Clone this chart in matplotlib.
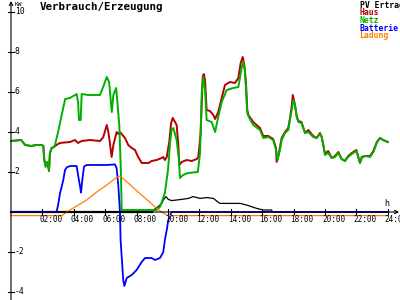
import matplotlib
matplotlib.use('Agg')
import matplotlib.pyplot as plt

# Verbrauch/Erzeugung - Tagesverlauf in kW

# Netz (gruen)
netz_h = [0.0, 0.65, 0.9, 1.3, 1.6, 1.95, 2.06, 2.12, 2.2, 2.32, 2.42, 2.48, 2.59, 2.74,
          2.8, 3.0, 3.2, 3.45, 3.75, 4.08, 4.18, 4.27, 4.33, 4.44, 4.5, 4.9, 5.3, 5.67,
          5.87, 6.1, 6.25, 6.35, 6.42, 6.52, 6.7, 6.78, 6.9, 7.0, 7.05, 9.28, 9.5, 9.8,
          10.0, 10.13, 10.23, 10.34, 10.55, 10.7, 10.76, 10.96, 11.27, 11.9, 12.04, 12.15,
          12.25, 12.36, 12.46, 12.78, 13.0, 13.2, 13.42, 13.74, 14.16, 14.48, 14.7, 14.8,
          14.9, 14.97, 15.05, 15.18, 15.43, 15.86, 16.07, 16.39, 16.7, 16.88, 16.98, 17.13,
          17.24, 17.45, 17.66, 17.77, 17.88, 17.98, 18.09, 18.2, 18.3, 18.5, 18.73, 18.94,
          19.25, 19.47, 19.68, 19.79, 19.89, 20.0, 20.2, 20.43, 20.64, 20.85, 21.06, 21.27,
          21.48, 21.7, 22.0, 22.12, 22.23, 22.34, 22.55, 22.87, 23.08, 23.3, 23.5, 23.7, 24.0]
netz_kw = [3.55, 3.6, 3.35, 3.3, 3.35, 3.35, 3.3, 2.6, 2.25, 2.5, 2.1, 2.95, 3.2, 3.25,
           3.35, 4.0, 4.75, 5.65, 5.7, 5.85, 5.9, 5.5, 4.6, 4.6, 5.9, 5.85, 5.85, 5.85,
           6.25, 6.75, 6.5, 5.6, 5.0, 5.85, 6.2, 5.45, 4.3, 2.0, 0.1, 0.1, 0.27, 0.95,
           2.1, 3.45, 4.1, 4.2, 3.6, 2.6, 1.7, 1.85, 1.95, 2.0, 2.95, 5.95,
           6.75, 6.1, 4.6, 4.5, 4.0, 4.75, 5.5, 6.1, 6.2, 6.25, 7.25, 7.5,
           7.1, 6.1, 4.95, 4.7, 4.35, 4.1, 3.7, 3.75, 3.6, 3.1, 2.6, 3.1,
           3.6, 3.95, 4.1, 4.6, 5.1, 5.6, 5.35, 4.75, 4.5, 4.45, 3.95, 4.0,
           3.75, 3.7, 3.9, 3.75, 3.35, 2.85, 2.95, 2.7, 2.75, 2.95, 2.65, 2.55,
           2.75, 2.9, 3.05, 2.75, 2.45, 2.7, 2.8, 2.75, 3.0, 3.45, 3.7, 3.6, 3.5]

# Haus (rot)
haus_h = [0.0, 0.65, 0.9, 1.3, 1.6, 1.95, 2.06, 2.12, 2.2, 2.32, 2.42, 2.48, 2.59, 2.74,
          2.8, 3.1, 3.75, 4.08, 4.27, 4.5, 5.03, 5.67, 5.88, 6.1, 6.2, 6.3, 6.41, 6.52,
          6.73, 6.84, 6.94, 7.26, 7.47, 7.69, 7.9, 8.1, 8.33, 8.75, 8.96, 9.28, 9.6, 9.7,
          9.8, 9.92, 10.08, 10.2, 10.3, 10.45, 10.55, 10.66, 10.72, 10.87, 11.19, 11.51,
          11.83, 11.93, 12.08, 12.21, 12.28, 12.36, 12.46, 12.67, 12.89, 13.0, 13.2, 13.42,
          13.63, 13.95, 14.27, 14.48, 14.63, 14.76, 14.86, 14.97, 15.05, 15.12, 15.43, 15.86,
          16.07, 16.39, 16.7, 16.88, 16.92, 17.05, 17.24, 17.45, 17.66, 17.77, 17.88, 17.95,
          18.05, 18.2, 18.3, 18.5, 18.73, 18.94, 19.25, 19.47, 19.68, 19.79, 19.89, 20.0,
          20.2, 20.43, 20.64, 20.85, 21.06, 21.27, 21.48, 21.7, 22.0, 22.12, 22.23, 22.34,
          22.55, 22.87, 23.08, 23.3, 23.5, 23.7, 24.0]
haus_kw = [3.55, 3.6, 3.35, 3.3, 3.35, 3.35, 3.3, 2.6, 2.35, 2.5, 2.05, 2.95, 3.2, 3.25,
           3.3, 3.45, 3.5, 3.6, 3.45, 3.55, 3.6, 3.55, 3.75, 4.35, 4.0, 3.45, 2.75, 3.35,
           4.0, 3.9, 4.0, 3.7, 3.35, 3.2, 3.1, 2.75, 2.45, 2.45, 2.55, 2.6, 2.7, 2.75,
           2.6, 2.75, 3.5, 4.45, 4.7, 4.5, 4.35, 3.35, 2.35, 2.5, 2.6, 2.55,
           2.65, 2.75, 3.95, 6.75, 6.9, 6.6, 5.1, 5.05, 4.85, 4.65, 5.0, 5.7,
           6.35, 6.5, 6.45, 6.7, 7.45, 7.75, 7.35, 6.4, 5.1, 4.85, 4.5, 4.2,
           3.8, 3.8, 3.65, 3.2, 2.5, 2.9, 3.7, 4.0, 4.2, 4.7, 5.3, 5.85,
           5.5, 4.8, 4.55, 4.5, 3.95, 4.1, 3.8, 3.7, 3.95, 3.75, 3.35, 2.9,
           3.05, 2.7, 2.8, 3.0, 2.65, 2.55, 2.8, 2.95, 3.1, 2.75, 2.45, 2.75,
           2.8, 2.8, 3.05, 3.5, 3.7, 3.6, 3.5]

# PV Ertrag (schwarz)
pv_h = [0.0, 9.0, 9.07, 9.38, 9.6, 9.7, 9.87, 10.02, 10.23, 10.55, 10.87, 11.3, 11.6,
        12.04, 12.46, 12.89, 13.3, 13.74, 14.6, 15.0, 15.65, 16.07, 16.6, 16.65, 24.0]
pv_kw = [0.0, 0.0, 0.1, 0.27, 0.43, 0.6, 0.77, 0.63, 0.57, 0.6, 0.63, 0.68, 0.77,
         0.68, 0.72, 0.68, 0.43, 0.43, 0.43, 0.35, 0.18, 0.1, 0.1, 0.0, 0.0]

# Batterie (blau)
bat_h = [0.0, 2.9, 3.0, 3.12, 3.23, 3.33, 3.44, 3.55, 3.76, 4.18, 4.29, 4.4, 4.46, 4.54,
         4.65, 4.82, 6.1, 6.62, 6.73, 6.84, 6.94, 6.98, 7.15, 7.22, 7.37, 7.69, 8.0, 8.32,
         8.54, 8.96, 9.17, 9.49, 9.7, 9.8, 9.92, 10.02, 10.23, 24.0]
bat_kw = [0.0, 0.0, 0.35, 0.93, 1.27, 1.6, 2.1, 2.23, 2.3, 2.3, 1.77, 1.27, 0.97, 1.6,
          2.27, 2.35, 2.35, 2.38, 2.18, 1.27, 0.0, -1.4, -3.4, -3.7, -3.3, -3.15, -2.9, -2.5,
          -2.3, -2.3, -2.4, -2.3, -2.0, -1.4, -0.9, -0.4, 0.0, 0.0]

# Ladung (orange)
lad_h = [0.0, 3.25, 3.65, 4.29, 4.82, 5.46, 6.1, 6.73, 6.95, 7.5, 8.2, 8.8, 9.28, 9.6,
         9.92, 10.0, 24.0]
lad_kw = [-0.18, -0.18, 0.05, 0.35, 0.6, 1.0, 1.35, 1.73, 1.8, 1.42, 0.93, 0.52, 0.18,
          0.0, -0.16, -0.18, -0.18]

xtick_h = [2, 4, 6, 8, 10, 12, 14, 16, 18, 20, 22, 24]
xtick_labels = ['02:00', '04:00', '06:00', '08:00', '10:00', '12:00', '14:00',
                '16:00', '18:00', '20:00', '22:00', '24:00']
ytick_kw = [-4, -2, 2, 4, 6, 8, 10]

legend_names = ['PV Ertrag', 'Haus', 'Netz', 'Batterie', 'Ladung']
farben = ['#000000', '#b40000', '#00b000', '#0000ff', '#ff8000']

mono = 'DejaVu Sans Mono'

fig = plt.figure(figsize=(4, 3), dpi=100)
ax = fig.add_axes([0, 0, 1, 1])
ax.set_xlim(-11 / 15.7, 389 / 15.7)
ax.set_ylim(-4.4, 10.6)
ax.axis('off')

# Achsen mit Pfeilen
ax.annotate('', xy=(0, 10.55), xytext=(0, -4.45),
            arrowprops=dict(arrowstyle='->', lw=0.8, color='black',
                            shrinkA=0, shrinkB=0, mutation_scale=6))
ax.annotate('', xy=(24.72, 0), xytext=(0, 0),
            arrowprops=dict(arrowstyle='->', lw=0.8, color='black',
                            shrinkA=0, shrinkB=0, mutation_scale=6))

# Striche und Beschriftung
for v in ytick_kw:
    ax.plot([-0.2, 0.2], [v, v], color='black', lw=0.8)
    ax.text(0.25, v, str(v), fontsize=5.8, family=mono, ha='left', va='center')
for h, lab in zip(xtick_h, xtick_labels):
    ax.plot([h, h], [-0.15, 0.15], color='black', lw=0.8)
    ax.text(h - 0.19, -0.38, lab, fontsize=5.5, family=mono, ha='left', va='center')

# Kurven
ax.plot(pv_h, pv_kw, color=farben[0], lw=0.9)
ax.plot(pv_h[:2], pv_kw[:2], color=farben[0], lw=1.6)
ax.plot(haus_h, haus_kw, color=farben[1], lw=1.4)
ax.plot(netz_h, netz_kw, color=farben[2], lw=1.4)
ax.plot(bat_h, bat_kw, color=farben[3], lw=1.3)
ax.plot(lad_h, lad_kw, color=farben[4], lw=0.9)

ax.text(23.93, 0.43, 'h', fontsize=6, family=mono, ha='center', va='center')

fig.text(15 / 400, 1 - 4.5 / 300, 'KW', fontsize=4.5, family=mono, ha='left', va='center')
fig.text(40 / 400, 1 - 7 / 300, 'Verbrauch/Erzeugung', fontsize=7.8, family=mono,
         fontweight='bold', ha='left', va='center')

for i, (name, c) in enumerate(zip(legend_names, farben)):
    fig.text(359.5 / 400, 1 - (5 + 7.7 * i) / 300, name, color=c, fontsize=5.9,
             family=mono, fontweight='bold', ha='left', va='center')

fig.savefig('out.png', dpi=100)
